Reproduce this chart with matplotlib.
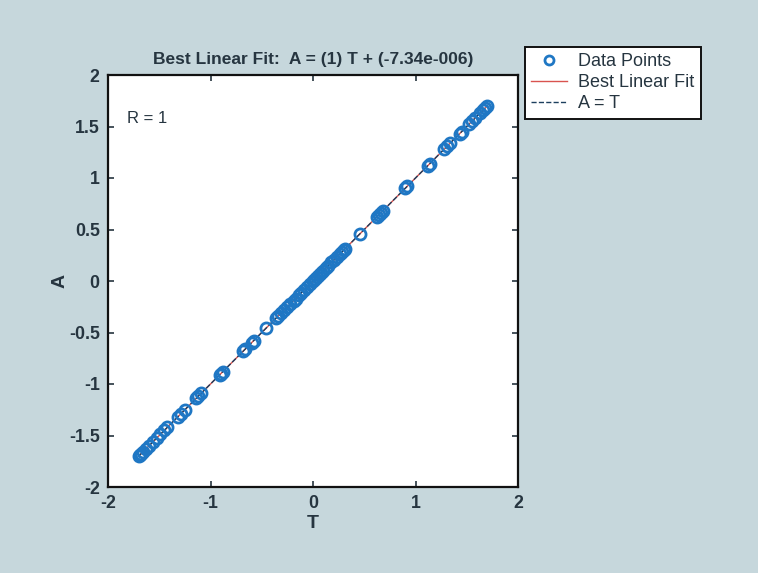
import numpy as np
import matplotlib
matplotlib.use("Agg")
import matplotlib.pyplot as plt

# regression of network outputs A against targets T
T = [-1.70, -1.69, -1.68, -1.66, -1.63, -1.60, -1.56, -1.52, -1.49, -1.45,
     -1.42, -1.32, -1.29, -1.25, -1.14, -1.12, -1.09, -0.91, -0.90, -0.88,
     -0.68, -0.66, -0.60, -0.58, -0.46, -0.36, -0.34, -0.31, -0.28, -0.25,
     -0.22, -0.19, -0.17, -0.14, -0.12, -0.09, -0.06, -0.03, 0.00, 0.02,
     0.04, 0.06, 0.08, 0.10, 0.13, 0.15, 0.18, 0.20, 0.23, 0.26, 0.28,
     0.30, 0.31, 0.46, 0.62, 0.64, 0.66, 0.68, 0.90, 0.92, 1.12, 1.14,
     1.28, 1.31, 1.34, 1.43, 1.45, 1.52, 1.55, 1.58, 1.63, 1.66, 1.68, 1.70]
A = [t - 7.34e-6 for t in T]
SLOPE, OFFSET = 1.0, -7.34e-6
R_VALUE = 1

XTICKS = [-2, -1, 0, 1, 2]
YTICKS = [-2, -1.5, -1, -0.5, 0, 0.5, 1, 1.5, 2]

BG = "#c6d7dc"
INK = "#263540"
BLUE = "#1f77c4"

plt.rcParams.update({
    "font.family": ["Liberation Sans", "DejaVu Sans"],
    "text.color": INK,
    "axes.labelcolor": INK,
    "xtick.color": INK,
    "ytick.color": INK,
})

fig = plt.figure(figsize=(7.58, 5.73), dpi=100, facecolor=BG)
ax = fig.add_axes([108 / 758, 1 - 487 / 573, 410 / 758, 412 / 573])
ax.set_facecolor("white")

t_line = np.array([min(T), max(T)])
ax.plot(T, A, "o", mfc="none", mec=BLUE, mew=2.0, ms=8,
        label="Data Points", zorder=3)
ax.plot(t_line, SLOPE * t_line + OFFSET, "-", color="#d9534f", lw=1.0,
        label="Best Linear Fit", zorder=2)
ax.plot(t_line, t_line, "--", color="#1d3f5e", lw=1.0, label="A = T",
        zorder=2)

ax.set_xlim(-2, 2)
ax.set_ylim(-2, 2)
ax.set_xticks(XTICKS)
ax.set_yticks(YTICKS)
ax.set_xticklabels([f"{v:g}" for v in XTICKS])
ax.set_yticklabels([f"{v:g}" for v in YTICKS])
ax.tick_params(direction="in", top=True, right=True, length=4, width=1.2,
               labelsize=12.8, pad=6)
for tl in ax.get_xticklabels() + ax.get_yticklabels():
    tl.set_fontweight("bold")
for sp in ax.spines.values():
    sp.set_linewidth(1.6)
    sp.set_color("#111111")

ax.set_xlabel("T", fontsize=14, fontweight="bold", labelpad=2)
ax.set_ylabel("A", fontsize=14, fontweight="bold", labelpad=0)
ax.set_title(f"Best Linear Fit:  A = ({SLOPE:g}) T + ({OFFSET:.2e})"
             .replace("e-06", "e-006"),
             fontsize=12.5, fontweight="bold", pad=8)
ax.text(-1.81, 1.58, f"R = {R_VALUE}", fontsize=12, va="center", ha="left")

leg = ax.legend(loc="upper left", bbox_to_anchor=(525 / 758, 1 - 47 / 573),
                bbox_transform=fig.transFigure, borderaxespad=0,
                fancybox=False, framealpha=1, edgecolor="#111111",
                fontsize=13, handlelength=2.0, labelspacing=0.22,
                borderpad=0.35, handletextpad=0.6)
leg.get_frame().set_linewidth(1.4)
leg.legend_handles[0].set_markersize(6.5)

fig.savefig("out.png", dpi=100, facecolor=BG)
